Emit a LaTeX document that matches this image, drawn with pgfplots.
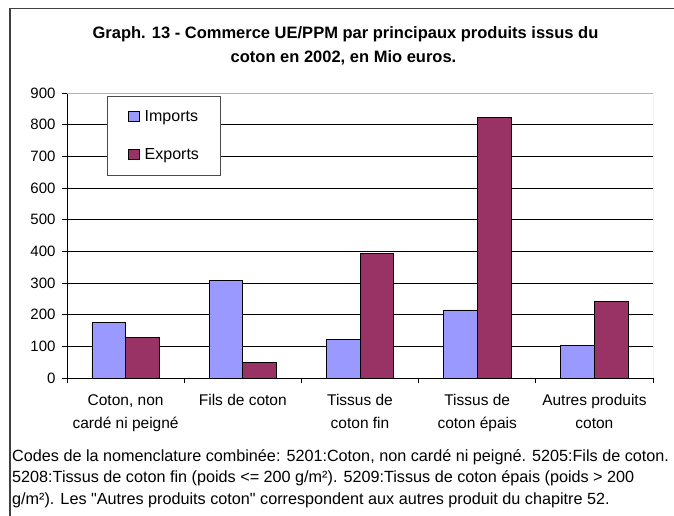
\documentclass[border=0pt]{standalone}
\usepackage{pgfplots}
\pgfplotsset{compat=1.18}
\usepackage{fontspec}
\setmainfont{Liberation Sans}
\newfontfamily\qfont{Liberation Sans}[Ligatures=TeXOff]
\definecolor{imp}{HTML}{9999FF}
\definecolor{exq}{HTML}{993366}
\begin{document}
\begin{tikzpicture}[x=1pt,y=1pt]
\useasboundingbox (0,0) rectangle (674,515);
\draw[line width=1.3pt, black!75] (10,-3) -- (10,506.7) -- (678,506.7);
\node[anchor=base, inner sep=0pt, font=\fontsize{16.5}{19}\selectfont\bfseries] at (345.5,476.3) {Graph. 13 - Commerce UE/PPM par principaux produits issus du};
\node[anchor=base, inner sep=0pt, font=\fontsize{16.5}{19}\selectfont\bfseries] at (343.5,452.9) {coton en 2002, en Mio euros.};
\node[anchor=base west, inner sep=0pt, font=\fontsize{16.2}{19}\selectfont] at (12,54) {Codes de la nomenclature combinée: 5201:Coton, non cardé ni peigné. 5205:Fils de coton.};
\node[anchor=base west, inner sep=0pt, font=\fontsize{16.2}{19}\selectfont] at (12,32.3) {5208:Tissus de coton fin (poids <= 200 g/m²). 5209:Tissus de coton épais (poids > 200};
\node[anchor=base west, inner sep=0pt, font=\qfont\fontsize{16.2}{19}\selectfont] at (12,10.6) {g/m²). Les "Autres produits coton" correspondent aux autres produit du chapitre 52.};
\begin{axis}[
  at={(67pt,137pt)}, anchor=south west,
  scale only axis, width=586pt, height=285pt,
  xmin=-0.5, xmax=4.5, ymin=0, ymax=900,
  ytick={0,100,...,900},
  xtick={0,...,4},
  xticklabels={{Coton, non\\cardé ni peigné},{Fils de coton},{Tissus de\\coton fin},{Tissus de\\coton épais},{Autres produits\\coton}},
  minor xtick={-0.5,0.5,...,4.5},
  axis lines*=left,
  axis line style={black, line width=1pt, -},
  tick align=outside,
  major tick length=5pt, minor tick length=5pt,
  major x tick style={draw=none},
  minor x tick style={black, line width=0.8pt},
  ytick style={black, line width=0.8pt},
  ymajorgrids, grid style={black, line width=0.8pt},
  /pgf/number format/assume math mode=true,
  yticklabel style={font=\fontsize{15}{18}\selectfont, xshift=-3pt},
  xticklabel style={font=\fontsize{15.5}{22.7}\selectfont, align=center, yshift=-8pt},
  legend style={at={(rel axis cs:0.0688,0.9895)}, anchor=north west, draw=black!70, line width=0.8pt,
    font=\fontsize{16}{19}\selectfont, inner xsep=20pt, inner ysep=13.2pt, row sep=23pt,
    nodes={inner sep=0pt, text height=11.5pt, text depth=3.5pt},
    /tikz/every odd column/.append style={column sep=4.7pt}},
  legend cell align=left,
  legend image code/.code={\draw[#1, draw=black, line width=0.7pt] (0pt,-4.6pt) rectangle (11.6pt,6pt);},
]
\addplot[ybar, bar width=33.7pt, bar shift=-16.85pt, fill=imp, draw=black, line width=0.8pt]
  coordinates {(0,176) (1,309) (2,122) (3,215) (4,104)};
\addlegendentry{\makebox[56pt][l]{Imports}}
\addplot[ybar, bar width=33.7pt, bar shift=16.85pt, fill=exq, draw=black, line width=0.8pt]
  coordinates {(0,127) (1,48) (2,393) (3,824) (4,242)};
\addlegendentry{\makebox[56pt][l]{Exports}}
\draw[gray!60, line width=1pt] (rel axis cs:0,1) -- (rel axis cs:1,1) -- (rel axis cs:1,0);
\end{axis}
\end{tikzpicture}
\end{document}
